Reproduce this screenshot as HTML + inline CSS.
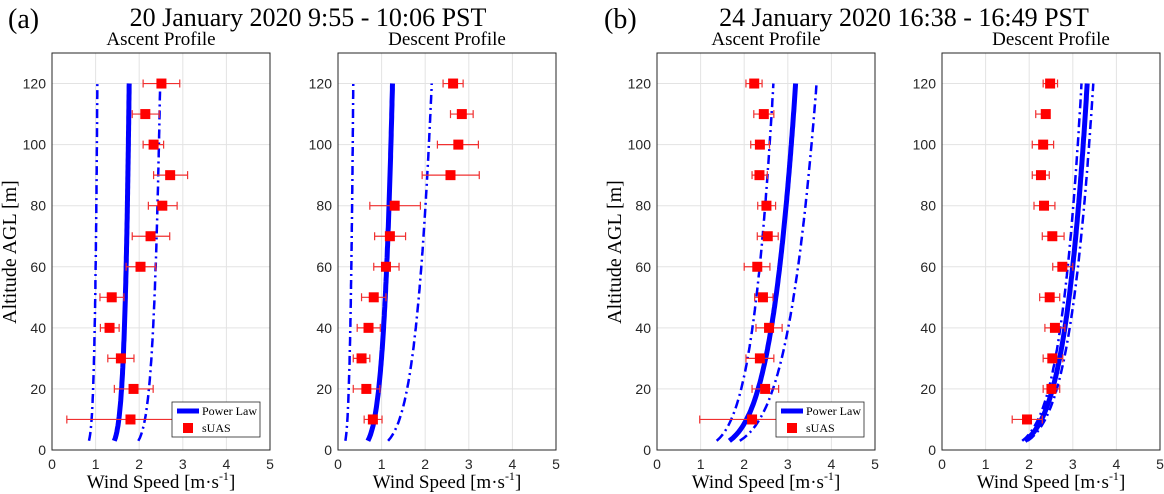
<!DOCTYPE html>
<html><head><meta charset="utf-8"><style>
body{margin:0;background:#fff;}
svg{display:block;}
</style></head><body>
<svg id="chart" width="1164" height="494" viewBox="0 0 1164 494">
<text font-family="Liberation Serif, serif" x="8" y="28" font-size="28">(a)</text>
<text font-family="Liberation Serif, serif" x="308" y="26" font-size="26" text-anchor="middle">20 January 2020 9:55 - 10:06 PST</text>
<text font-family="Liberation Serif, serif" x="604" y="28" font-size="28">(b)</text>
<text font-family="Liberation Serif, serif" x="904" y="26" font-size="26" text-anchor="middle">24 January 2020 16:38 - 16:49 PST</text>
</svg>
<script>
const panelTitles=["Ascent Profile","Descent Profile","Ascent Profile","Descent Profile"];
const heights=[120,110,100,90,80,70,60,50,40,30,20,10];
const suasA1=[2.51,2.14,2.33,2.71,2.53,2.26,2.03,1.37,1.32,1.58,1.87,1.80];
const errLoA1=[2.09,1.84,2.09,2.33,2.21,1.84,1.70,1.10,1.11,1.28,1.43,0.34];
const errHiA1=[2.93,2.46,2.56,3.11,2.87,2.70,2.38,1.65,1.54,1.88,2.32,3.26];
const suasD1=[2.64,2.84,2.76,2.58,1.30,1.19,1.10,0.82,0.70,0.54,0.65,0.80];
const errLoD1=[2.41,2.58,2.28,1.93,0.73,0.84,0.82,0.54,0.44,0.35,0.35,0.60];
const errHiD1=[2.87,3.10,3.22,3.24,1.89,1.55,1.40,1.10,0.97,0.73,0.96,1.01];
const suasA2=[2.23,2.45,2.36,2.35,2.51,2.54,2.30,2.43,2.57,2.36,2.48,2.18];
const errLoA2=[2.04,2.22,2.15,2.18,2.31,2.30,2.00,2.24,2.27,2.04,2.18,0.98];
const errHiA2=[2.41,2.68,2.58,2.53,2.72,2.78,2.59,2.66,2.87,2.68,2.79,3.40];
const suasD2=[2.48,2.38,2.32,2.27,2.34,2.53,2.76,2.47,2.59,2.53,2.51,1.95];
const errLoD2=[2.32,2.15,2.07,2.07,2.11,2.30,2.54,2.24,2.36,2.32,2.32,1.61];
const errHiD2=[2.65,2.40,2.56,2.46,2.59,2.80,3.00,2.70,2.82,2.77,2.70,2.30];
// power law: speed at 120 m and exponent, for [lower, central, upper]
const plU120=[[1.04,1.77,2.48],[0.35,1.25,2.15],[2.67,3.18,3.66],[3.20,3.33,3.47]];
const plExp=[[0.055,0.058,0.061],[0.196,0.163,0.17],[0.181,0.176,0.178],[0.15,0.152,0.154]];
const xTicks=[0,1,2,3,4,5];
const yTicks=[0,20,40,60,80,100,120];
const suas=[suasA1,suasD1,suasA2,suasD2];
const errLo=[errLoA1,errLoD1,errLoA2,errLoD2];
const errHi=[errHiA1,errHiD1,errHiA2,errHiD2];

const NS="http://www.w3.org/2000/svg";
const SERIF="Liberation Serif, serif", SANS="Liberation Sans, sans-serif";
const svg=document.getElementById('chart');
const lefts=[52,338,657,942], W=218, TOP=53, BOT=450;
function mk(tag,attrs,parent){const e=document.createElementNS(NS,tag);for(const k in attrs)e.setAttribute(k,attrs[k]);(parent||svg).appendChild(e);return e;}
lefts.forEach((L,pi)=>{
  const g=mk('g',{});
  
  
  const xs=v=>L+v/5*W;
  const ys=v=>BOT-v/130*(BOT-TOP);
  const clip=mk('clipPath',{id:'c'+pi},g);
  mk('rect',{x:L,y:TOP,width:W,height:BOT-TOP},clip);
  xTicks.forEach(t=>{
    const gl=mk('line',{x1:xs(t),x2:xs(t),y1:TOP,y2:BOT,stroke:'#e3e3e3','stroke-width':1},g);
    
    
    const tl=mk('text',{x:xs(t),y:BOT+19,'text-anchor':'middle','font-family':SANS,'font-size':14,fill:'#262626'},g);
    tl.textContent=t;
    
    
  });
  yTicks.forEach(t=>{
    const gl=mk('line',{x1:L,x2:L+W,y1:ys(t),y2:ys(t),stroke:'#e3e3e3','stroke-width':1},g);
    
    
    const tl=mk('text',{x:L-6,y:ys(t)+5,'text-anchor':'end','font-family':SANS,'font-size':14,fill:'#262626'},g);
    tl.textContent=t;
    
    
  });
  const box=mk('rect',{x:L,y:TOP,width:W,height:BOT-TOP,fill:'none',stroke:'#262626','stroke-width':1},g);
  
  
  const st=mk('text',{x:L+W/2,y:45,'text-anchor':'middle','font-family':SERIF,'font-size':19},g);
  st.textContent=panelTitles[pi];
  
  
  const xl=mk('text',{x:L+W/2,y:488,'text-anchor':'middle','font-family':SERIF,'font-size':19},g);
  
  
  const s1=mk('tspan',{'font-family':SERIF},xl); s1.textContent='Wind Speed [m·s';
  const s2=mk('tspan',{'font-family':SERIF,'font-size':12,dy:-8},xl); s2.textContent='-1';
  const s3=mk('tspan',{'font-family':SERIF,dy:8},xl); s3.textContent=']';
  if(pi%2===0){
    const yl=mk('text',{x:0,y:0,'text-anchor':'middle','font-family':SERIF,'font-size':20,transform:`translate(${L-36},252) rotate(-90)`},g);
    yl.textContent='Altitude AGL [m]';
    
    
  }
  [0,2,1].forEach(ci=>{
    let d='';
    for(let z=3;z<=120;z+=1){const u=plU120[pi][ci]*Math.pow(z/120,plExp[pi][ci]);d+=(z===3?'M':'L')+xs(u).toFixed(1)+','+ys(z).toFixed(1);}
    const p=mk('path',{d:d,fill:'none',stroke:'#0000ff','stroke-width':ci===1?5:2.5,'clip-path':`url(#c${pi})`},g);
    if(ci!==1)p.setAttribute('stroke-dasharray','9,4,2,4');
    
    
  });
  heights.forEach((h,i)=>{
    const y=ys(h);
    const eb=mk('path',{d:`M${xs(errLo[pi][i])},${y}H${xs(errHi[pi][i])}M${xs(errLo[pi][i])},${y-4}V${y+4}M${xs(errHi[pi][i])},${y-4}V${y+4}`,stroke:'#f03030','stroke-width':1.2,fill:'none','clip-path':`url(#c${pi})`},g);
    
    
    const m=mk('rect',{x:xs(suas[pi][i])-5,y:y-5,width:10,height:10,fill:'#ff0000'},g);
    
    
  });
  if(pi===0||pi===2){
    const lx=pi===0?172:776, ly=402;
    const lg=mk('g',{},g);
    
    
    mk('rect',{x:lx,y:ly,width:88,height:35,fill:'#fff',stroke:'#262626','stroke-width':0.8},lg);
    mk('line',{x1:lx+5,x2:lx+27,y1:ly+9,y2:ly+9,stroke:'#0000ff','stroke-width':5},lg);
    mk('rect',{x:lx+11,y:ly+21,width:10,height:10,fill:'#ff0000'},lg);
    const t1=mk('text',{x:lx+30,y:ly+13,'font-family':SERIF,'font-size':12},lg);t1.textContent='Power Law';
    
    
    const t2=mk('text',{x:lx+30,y:ly+30,'font-family':SERIF,'font-size':12},lg);t2.textContent='sUAS';
    
    
  }
});
</script>
</body></html>
